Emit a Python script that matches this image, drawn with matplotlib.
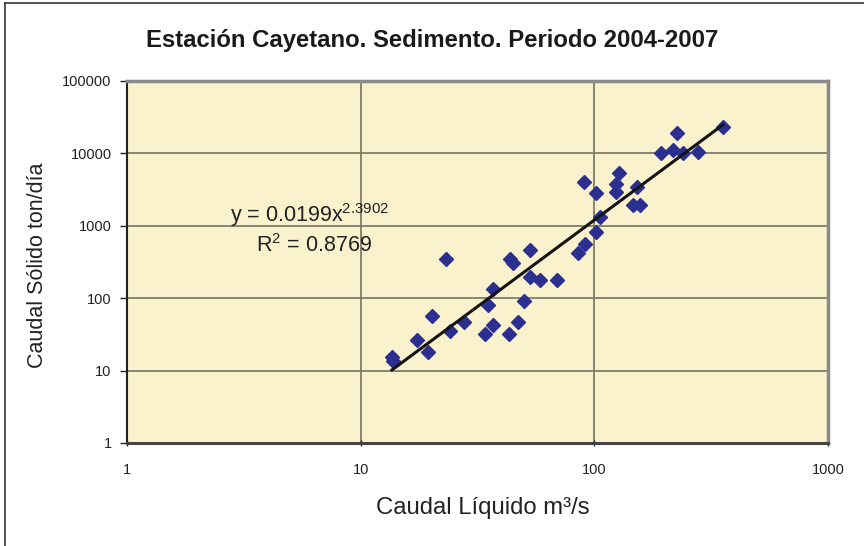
import numpy as np
import matplotlib
matplotlib.use("Agg")
import matplotlib.pyplot as plt
from matplotlib.lines import Line2D
from matplotlib.ticker import FixedLocator, FixedFormatter, NullLocator

plt.rcParams['font.family'] = ['Liberation Sans', 'DejaVu Sans']
plt.rcParams['mathtext.fontset'] = 'custom'
plt.rcParams['mathtext.rm'] = 'Liberation Sans'
plt.rcParams['mathtext.it'] = 'Liberation Sans'
plt.rcParams['mathtext.default'] = 'regular'

# ---- data ----
caudal_liquido = [13.6, 13.8, 17.4, 19.4, 20.2, 23.2, 24.1, 27.7, 34.0, 36.8,
                  43.1, 47.1, 50.0, 35.1, 36.8, 43.5, 44.8, 53.0, 53.0, 58.5,
                  69.2, 85.1, 91.2, 101.6, 105.7, 90.3, 101.6, 127.4, 123.7, 123.7,
                  152.2, 146.3, 156.7, 192.8, 216.9, 225.6, 239.4, 277.5, 355.0]
caudal_solido = [15.4, 13.6, 26.5, 18.1, 56.8, 348, 35.2, 46.9, 32.0, 42.6,
                 32.0, 46.9, 91.5, 80.5, 134, 348, 306, 463, 196, 178,
                 178, 421, 561, 821, 1323, 4027, 2838, 5362, 3779, 2930,
                 3435, 1938, 1938, 10128, 11143, 19130, 10128, 10455, 23150]

# trend line coefficients as printed on the chart
trend_coef = 0.0199
trend_exp = 2.3902
r_squared = 0.8769

x_ticks = [1, 10, 100, 1000]
x_tick_labels = ['1', '10', '100', '1000']
y_ticks = [1, 10, 100, 1000, 10000, 100000]
y_tick_labels = ['1', '10', '100', '1000', '10000', '100000']

title = 'Estación Cayetano. Sedimento. Periodo 2004-2007'
xlabel = 'Caudal Líquido m³/s'
ylabel = 'Caudal Sólido ton/día'

W, H = 864, 546
fig = plt.figure(figsize=(W / 100, H / 100), dpi=100)
fig.patch.set_facecolor('white')

L, R, T, B = 127, 828, 81, 443
ax = fig.add_axes([L / W, 1 - B / H, (R - L) / W, (B - T) / H])
ax.set_facecolor('#F9F2CD')
ax.set_xscale('log')
ax.set_yscale('log')
ax.set_xlim(1, 1000)
ax.set_ylim(1, 100000)

ax.xaxis.set_major_locator(FixedLocator(x_ticks))
ax.xaxis.set_major_formatter(FixedFormatter(x_tick_labels))
ax.yaxis.set_major_locator(FixedLocator(y_ticks))
ax.yaxis.set_major_formatter(FixedFormatter(y_tick_labels))
ax.xaxis.set_minor_locator(NullLocator())
ax.yaxis.set_minor_locator(NullLocator())

ax.grid(True, which='major', color='#807c6c', linewidth=1.3)
ax.set_axisbelow(True)

ax.tick_params(axis='x', direction='inout', length=5, width=1, pad=12,
               labelsize=10.5, colors='#222222')
ax.tick_params(axis='y', direction='out', length=5, width=1, pad=6,
               labelsize=10.5, colors='#222222')

ax.spines['left'].set_color('#222222')
ax.spines['left'].set_linewidth(1.5)
ax.spines['bottom'].set_color('#444444')
ax.spines['bottom'].set_linewidth(2.2)
ax.spines['top'].set_color('#8a8a8a')
ax.spines['top'].set_linewidth(2.5)
ax.spines['right'].set_color('#8a8a8a')
ax.spines['right'].set_linewidth(2.5)

# scatter points
ax.plot(caudal_liquido, caudal_solido, linestyle='none', marker='D',
        markersize=7, markerfacecolor='#2B2F8F', markeredgecolor='#2B2F8F',
        zorder=3)

# power trend line
xs = np.sort(np.array(caudal_liquido))
ys = trend_coef * xs ** trend_exp
ax.plot(xs, ys, color='#141414', linewidth=2.2, zorder=4)

# equation text
fig.text(230 / W, 1 - 215 / H, r'y = 0.0199x$^{2.3902}$', fontsize=15.5,
         color='#222222', ha='left', va='center')
fig.text(256 / W, 1 - 246 / H, r'R$^{2}$ = 0.8769', fontsize=15.5,
         color='#222222', ha='left', va='center')

# title and axis labels
fig.text(432 / W, 1 - 40 / H, title, fontsize=17.2, fontweight='bold',
         color='#1a1a1a', ha='center', va='center')
fig.text(483 / W, 1 - 508 / H, xlabel, fontsize=17.2, color='#222222',
         ha='center', va='center')
fig.text(38 / W, 1 - 265 / H, ylabel, fontsize=15.5, color='#222222',
         ha='center', va='center', rotation=90)

# outer chart frame (left and top edges visible)
fig.add_artist(Line2D([4.5 / W, 4.5 / W], [0, 1 - 3 / H], transform=fig.transFigure,
                      color='#333333', linewidth=1.2))
fig.add_artist(Line2D([4.5 / W, 1], [1 - 3 / H, 1 - 3 / H], transform=fig.transFigure,
                      color='#333333', linewidth=1.2))

fig.savefig('out.png', dpi=100)
